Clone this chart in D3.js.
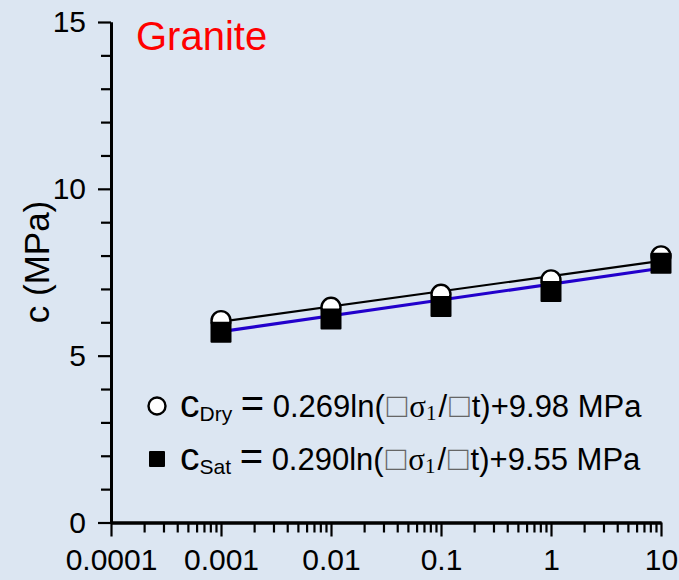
<!DOCTYPE html>
<html>
<head>
<meta charset="utf-8">
<script src="https://cdn.jsdelivr.net/npm/d3@7"></script>
<style>
  html, body { margin: 0; padding: 0; background: #dce6f2; }
  svg { display: block; font-family: "Liberation Sans", Arial, sans-serif; }
</style>
</head>
<body>
<svg id="chart" width="679" height="580"></svg>
<script>
// Loading rate (MPa/s) at each test
const rates = [0.001, 0.01, 0.1, 1, 10];
// Cohesion c (MPa), dry and saturated granite
const cDry = [6.05, 6.45, 6.84, 7.27, 7.99];
const cSat = [5.70, 6.10, 6.47, 6.92, 7.77];
// Fitted trend lines, end points over the tested range
const fitRates = [0.001, 10];
const fitDry = [6.02, 7.84];
const fitSat = [5.72, 7.62];
// Axis ticks
const xMajorTicks = [0.0001, 0.001, 0.01, 0.1, 1, 10];
const xTickLabels = ["0.0001", "0.001", "0.01", "0.1", "1", "10"];
const yMajorTicks = [0, 5, 10, 15];
const yMinorTicks = [1, 2, 3, 4, 6, 7, 8, 9, 11, 12, 13, 14];

const svg = d3.select("#chart");
const x = d3.scaleLog().domain([0.0001, 10]).range([111, 661]);
const y = d3.scaleLinear().domain([0, 15]).range([522.5, 22]);

// minor ticks of the log axis: 2..9 within each decade
const xMinorTicks = [];
for (let k = 0; k < xMajorTicks.length - 1; k++) {
  for (let m = 2; m <= 9; m++) xMinorTicks.push(xMajorTicks[k] * m);
}

// x axis
const xAxisMinor = d3.axisBottom(x).tickValues(xMinorTicks).tickSize(10).tickSizeOuter(0).tickFormat("");
const xAxisMajor = d3.axisBottom(x).tickValues(xMajorTicks).tickSize(14).tickSizeOuter(0)
  .tickFormat((d, i) => xTickLabels[i]).tickPadding(6);
const gxm = svg.append("g").attr("transform", `translate(0,${y(0)})`).call(xAxisMinor);
const gx = svg.append("g").attr("transform", `translate(0,${y(0)})`).call(xAxisMajor);

// y axis
const yAxisMinor = d3.axisLeft(y).tickValues(yMinorTicks).tickSize(10).tickSizeOuter(0).tickFormat("");
const yAxisMajor = d3.axisLeft(y).tickValues(yMajorTicks).tickSize(13).tickSizeOuter(0)
  .tickFormat(d3.format("d")).tickPadding(12);
const gym = svg.append("g").attr("transform", `translate(${x(0.0001)},0)`).call(yAxisMinor);
const gy = svg.append("g").attr("transform", `translate(${x(0.0001)},0)`).call(yAxisMajor);

[gxm, gx, gym, gy].forEach(g => {
  g.select(".domain").attr("stroke", "#000").attr("stroke-width", 3);
  g.selectAll(".tick line").attr("stroke", "#000").attr("stroke-width", 2.2);
  g.selectAll(".tick text").attr("fill", "#000").attr("font-size", 30)
    .attr("font-family", "'Liberation Sans', Arial, sans-serif");
});
gx.selectAll(".tick text").attr("dy", "0.92em");

// axis title
svg.append("text")
  .attr("transform", `translate(49,${262}) rotate(-90)`)
  .attr("text-anchor", "middle")
  .attr("font-size", 35)
  .attr("fill", "#000")
  .text("c (MPa)");

// rock type
svg.append("text")
  .attr("x", 136).attr("y", 50)
  .attr("font-size", 40)
  .attr("fill", "#ff0000")
  .text("Granite");

// fitted lines
const line = d3.line().x(d => x(d[0])).y(d => y(d[1]));
svg.append("path")
  .datum(fitRates.map((r, i) => [r, fitDry[i]]))
  .attr("d", line).attr("fill", "none").attr("stroke", "#000").attr("stroke-width", 2.2);
svg.append("path")
  .datum(fitRates.map((r, i) => [r, fitSat[i]]))
  .attr("d", line).attr("fill", "none").attr("stroke", "#2200cc").attr("stroke-width", 3.2);

// dry points: open circles
svg.append("g").selectAll("circle")
  .data(rates.map((r, i) => [r, cDry[i]]))
  .join("circle")
  .attr("cx", d => x(d[0])).attr("cy", d => y(d[1])).attr("r", 9.5)
  .attr("fill", "#fff").attr("stroke", "#000").attr("stroke-width", 2.4);

// saturated points: filled squares
const sq = 19;
svg.append("g").selectAll("rect")
  .data(rates.map((r, i) => [r, cSat[i]]))
  .join("rect")
  .attr("x", d => x(d[0]) - sq / 2).attr("y", d => y(d[1]) - sq / 2)
  .attr("width", sq).attr("height", sq)
  .attr("fill", "#000").attr("stroke", "#000").attr("stroke-width", 2)
  .attr("stroke-linejoin", "round");

// legend
const serif = "'Liberation Serif', 'Times New Roman', serif";
const legend = [
  { sub: "Dry", a: "0.269", b: "9.98", cy: 406 },
  { sub: "Sat", a: "0.290", b: "9.55", cy: 459 }
];
legend.forEach((item, i) => {
  if (i === 0) {
    svg.append("circle").attr("cx", 157).attr("cy", item.cy).attr("r", 8.5)
      .attr("fill", "#fff").attr("stroke", "#000").attr("stroke-width", 2.4);
  } else {
    svg.append("rect").attr("x", 150).attr("y", item.cy - 7).attr("width", 14).attr("height", 14)
      .attr("fill", "#000").attr("stroke", "#000").attr("stroke-width", 2).attr("stroke-linejoin", "round");
  }
  const t = svg.append("text")
    .attr("x", 180).attr("y", item.cy + 10.5)
    .attr("font-size", 31).attr("fill", "#000");
  t.append("tspan").attr("font-size", 39).text("c");
  t.append("tspan").attr("font-size", 21).attr("dy", 4).text(item.sub);
  t.append("tspan").attr("dy", -4).text(" ");
  t.append("tspan").attr("font-size", 40).text("=");
  t.append("tspan").text(" " + item.a + "ln(");
  t.append("tspan").attr("fill", "#666").attr("font-size", 34).attr("dx", 2).text("□");
  t.append("tspan").attr("font-family", serif).attr("dx", 2).text("σ");
  t.append("tspan").attr("font-family", serif).attr("font-size", 21).attr("dy", 3).text("1");
  t.append("tspan").attr("dy", -3).attr("dx", 2).text("/");
  t.append("tspan").attr("fill", "#666").attr("font-size", 34).attr("dx", 2).text("□");
  t.append("tspan").attr("dx", 2).text("t)+" + item.b + " MPa");
});
</script>
</body>
</html>
